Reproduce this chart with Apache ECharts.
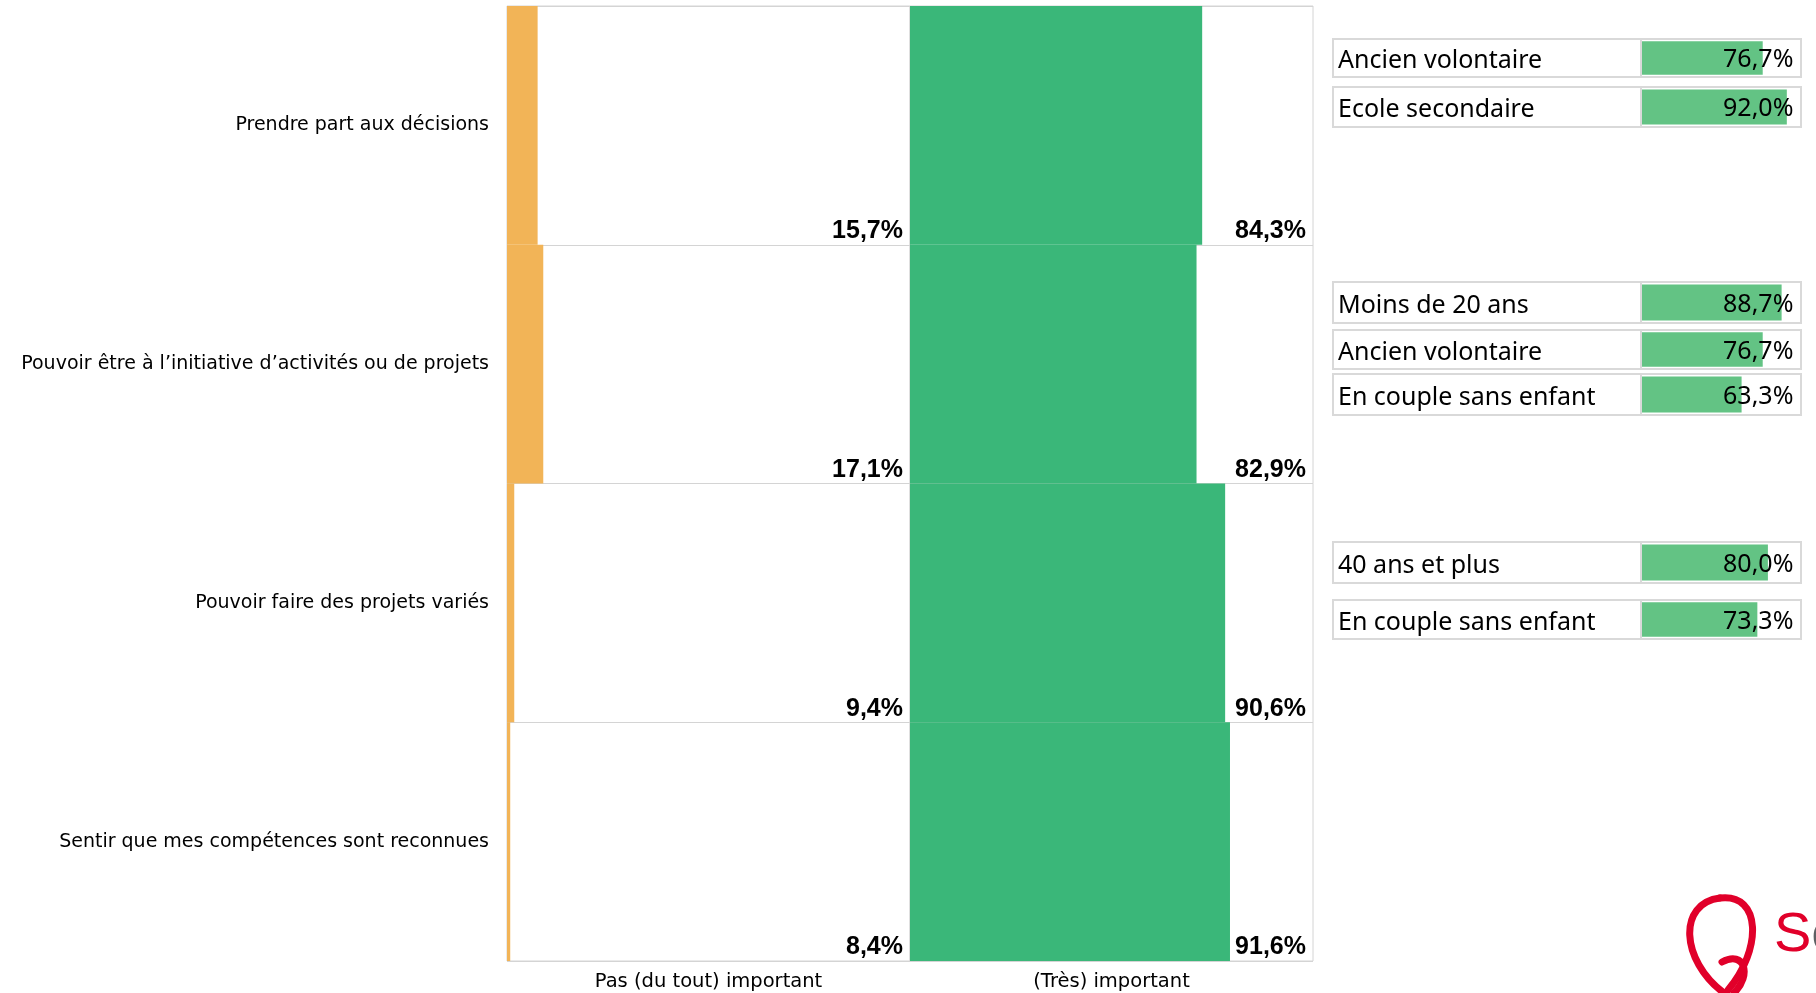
<!DOCTYPE html>
<html>
<head>
<meta charset="utf-8">
<script src="https://cdn.jsdelivr.net/npm/echarts@6/dist/echarts.min.js"></script>
<style>
html,body{margin:0;padding:0;background:#fff;}
#chart{width:1816px;height:993px;}
</style>
</head>
<body>
<div id="chart"></div>
<script>
// ---- data ----
const categories = [
  "Prendre part aux décisions",
  "Pouvoir être à l’initiative d’activités ou de projets",
  "Pouvoir faire des projets variés",
  "Sentir que mes compétences sont reconnues"
];
const panelNames = ["Pas (du tout) important", "(Très) important"];
// bar lengths as drawn (share of the panel)
const orangeBars = [7.6, 9.0, 1.8, 0.8];
const greenBars = [72.5, 71.1, 78.2, 79.4];
// printed totals
const leftLabels = ["15,7%", "17,1%", "9,4%", "8,4%"];
const rightLabels = ["84,3%", "82,9%", "90,6%", "91,6%"];
// side tables
const boxNames = ["Ancien volontaire", "Ecole secondaire", "Moins de 20 ans", "Ancien volontaire",
  "En couple sans enfant", "40 ans et plus", "En couple sans enfant"];
const boxValues = [76.7, 92.0, 88.7, 76.7, 63.3, 80.0, 73.3];

// ---- layout ----
const boxTops = [39, 87, 282, 330, 374, 542, 600];
const boxHeights = [38, 40, 41, 39, 41, 41, 39];
const boxMin = -196, boxMax = 101;

const chart = echarts.init(document.getElementById('chart'));
const fmt = v => v.toFixed(1).replace('.', ',') + '%';

const grids = [
  {left: 507, width: 403, top: 6, height: 955, show: true, borderColor: '#d4d4d4', borderWidth: 1,
   containLabel: false, outerBoundsMode: 'none'},
  {left: 910, width: 403, top: 6, height: 955, show: true, borderColor: '#d4d4d4', borderWidth: 1,
   containLabel: false, outerBoundsMode: 'none'}
];
const xAxes = [0, 1].map(i => ({
  gridIndex: i, type: 'value', min: 0, max: 100,
  axisLabel: {show: false}, splitLine: {show: false}, axisLine: {show: false}, axisTick: {show: false},
  name: panelNames[i], nameLocation: 'middle', nameGap: 11,
  nameTextStyle: {fontFamily: 'DejaVu Sans', fontSize: 19.5, color: '#000', verticalAlign: 'top'}
}));
const yAxes = [0, 1].map(i => ({
  gridIndex: i, type: 'category', data: categories, inverse: true,
  axisLine: {show: false}, axisTick: {show: false},
  splitLine: {show: true, lineStyle: {color: '#d4d4d4', width: 1}},
  axisLabel: {show: i === 0, fontFamily: 'DejaVu Sans', fontSize: 19, color: '#000', margin: 18}
}));
const labelStyle = {fontFamily: 'Liberation Sans', fontWeight: 'bold', fontSize: 25, color: '#000'};
const series = [
  {type: 'bar', xAxisIndex: 0, yAxisIndex: 0, data: orangeBars, barCategoryGap: '0%', barGap: '-100%',
   itemStyle: {color: '#f2b457'}, silent: true},
  {type: 'bar', xAxisIndex: 0, yAxisIndex: 0, data: categories.map(() => 100), barCategoryGap: '0%', barGap: '-100%',
   itemStyle: {color: 'rgba(0,0,0,0)'}, silent: true,
   label: Object.assign({show: true, position: 'insideBottomRight', distance: 7, offset: [0, 6],
     formatter: p => leftLabels[p.dataIndex]}, labelStyle)},
  {type: 'bar', xAxisIndex: 1, yAxisIndex: 1, data: greenBars, barCategoryGap: '0%', barGap: '-100%',
   itemStyle: {color: '#3ab779'}, silent: true},
  {type: 'bar', xAxisIndex: 1, yAxisIndex: 1, data: categories.map(() => 100), barCategoryGap: '0%', barGap: '-100%',
   itemStyle: {color: 'rgba(0,0,0,0)'}, silent: true,
   label: Object.assign({show: true, position: 'insideBottomRight', distance: 7, offset: [0, 6],
     formatter: p => rightLabels[p.dataIndex]}, labelStyle)}
];

const boxText = {fontFamily: 'Noto Sans', fontSize: 25, color: '#000'};
boxNames.forEach((name, i) => {
  const gi = grids.length;
  grids.push({left: 1333, width: 468, top: boxTops[i], height: boxHeights[i], show: true,
    borderColor: '#d9d9d9', borderWidth: 2, containLabel: false, outerBoundsMode: 'none'});
  xAxes.push({gridIndex: gi, type: 'value', min: boxMin, max: boxMax, show: false});
  yAxes.push({gridIndex: gi, type: 'category', data: [name], show: false});
  series.push({type: 'bar', xAxisIndex: gi, yAxisIndex: gi, data: [boxValues[i]], barWidth: '88%', barGap: '-100%',
    itemStyle: {color: '#63c384'}, silent: true,
    markLine: {silent: true, symbol: 'none', label: {show: false},
      lineStyle: {color: '#d9d9d9', width: 2, type: 'solid'}, data: [{xAxis: -1}]}});
  // name cell (transparent bar spanning the name cell, label on its left)
  series.push({type: 'bar', xAxisIndex: gi, yAxisIndex: gi, data: [boxMin], barWidth: '88%', barGap: '-100%',
    itemStyle: {color: 'rgba(0,0,0,0)'}, silent: true,
    label: Object.assign({show: true, position: 'insideLeft', distance: 5, offset: [0, 3],
      formatter: p => p.name}, boxText)});
  // value text
  series.push({type: 'bar', xAxisIndex: gi, yAxisIndex: gi, data: [100], barWidth: '88%', barGap: '-100%',
    itemStyle: {color: 'rgba(0,0,0,0)'}, silent: true,
    label: Object.assign({show: true, position: 'insideRight', distance: 6, offset: [0, 2],
      formatter: () => fmt(boxValues[i])}, boxText)});
});

const logoStroke = {fill: null, stroke: '#e1002a', lineWidth: 7, lineCap: 'round'};
chart.setOption({
  animation: false,
  backgroundColor: '#fff',
  grid: grids, xAxis: xAxes, yAxis: yAxes, series: series,
  graphic: [
    {type: 'bezierCurve', silent: true,
     shape: {x1: 1724, y1: 993, cpx1: 1680, cpy1: 960, cpx2: 1678, cpy2: 903, x2: 1720, y2: 898},
     style: logoStroke},
    {type: 'bezierCurve', silent: true,
     shape: {x1: 1720, y1: 898, cpx1: 1762, cpy1: 893, cpx2: 1762, cpy2: 950, x2: 1728, y2: 990},
     style: logoStroke},
    {type: 'bezierCurve', silent: true,
     shape: {x1: 1722, y1: 962, cpx1: 1745, cpy1: 950, cpx2: 1752, cpy2: 975, x2: 1734, y2: 993},
     style: logoStroke},
    {type: 'text', silent: true, left: 1774, top: 908,
     style: {text: '{a|S}{b|e}', rich: {a: {fill: '#e1002a', fontSize: 56, fontFamily: 'Liberation Sans'},
       b: {fill: '#5d6063', fontSize: 56, fontFamily: 'Liberation Sans'}}}}
  ]
});
</script>
</body>
</html>
